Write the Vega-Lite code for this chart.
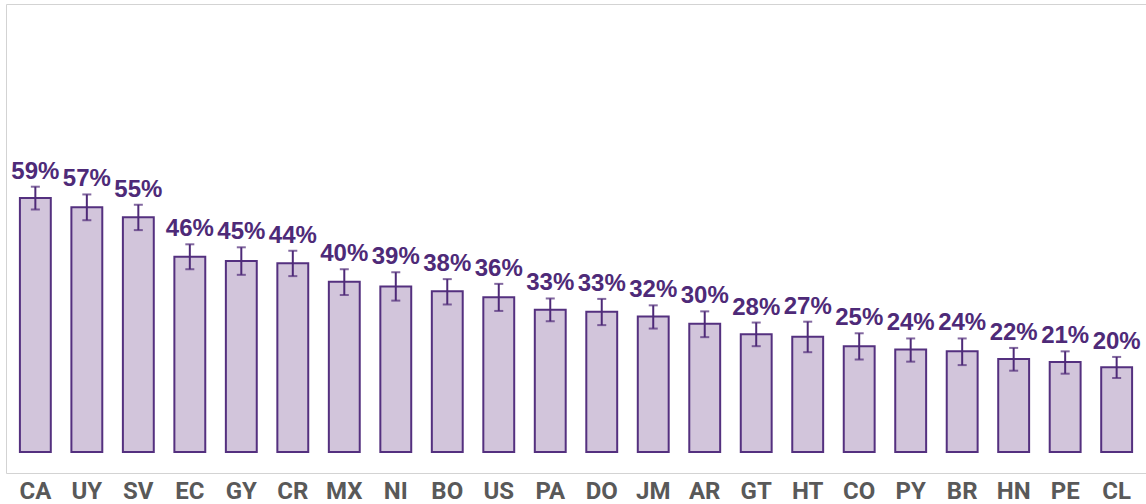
{
  "$schema": "https://vega.github.io/schema/vega-lite/v6.json",
  "autosize": "none",
  "width": 1140,
  "height": 469,
  "padding": {"left": 6, "top": 4, "right": 0, "bottom": 31},
  "background": "white",
  "config": {
    "view": {"stroke": "#d3d3d3", "strokeWidth": 1},
    "font": "Roboto"
  },
  "data": {
    "values": [
      {"country": "CA", "value": 59.1, "lo": 56.4, "hi": 61.7, "label": "59%"},
      {"country": "UY", "value": 56.9, "lo": 53.9, "hi": 59.9, "label": "57%"},
      {"country": "SV", "value": 54.6, "lo": 51.6, "hi": 57.5, "label": "55%"},
      {"country": "EC", "value": 45.4, "lo": 42.5, "hi": 48.3, "label": "46%"},
      {"country": "GY", "value": 44.4, "lo": 41.2, "hi": 47.6, "label": "45%"},
      {"country": "CR", "value": 43.9, "lo": 40.9, "hi": 46.8, "label": "44%"},
      {"country": "MX", "value": 39.6, "lo": 36.5, "hi": 42.5, "label": "40%"},
      {"country": "NI", "value": 38.5, "lo": 35.2, "hi": 41.8, "label": "39%"},
      {"country": "BO", "value": 37.4, "lo": 34.3, "hi": 40.2, "label": "38%"},
      {"country": "US", "value": 36.0, "lo": 32.8, "hi": 39.1, "label": "36%"},
      {"country": "PA", "value": 33.1, "lo": 30.4, "hi": 35.7, "label": "33%"},
      {"country": "DO", "value": 32.6, "lo": 29.5, "hi": 35.6, "label": "33%"},
      {"country": "JM", "value": 31.5, "lo": 28.7, "hi": 34.1, "label": "32%"},
      {"country": "AR", "value": 29.8, "lo": 26.7, "hi": 32.7, "label": "30%"},
      {"country": "GT", "value": 27.4, "lo": 24.6, "hi": 30.1, "label": "28%"},
      {"country": "HT", "value": 26.8, "lo": 23.2, "hi": 30.3, "label": "27%"},
      {"country": "CO", "value": 24.6, "lo": 21.5, "hi": 27.6, "label": "25%"},
      {"country": "PY", "value": 23.8, "lo": 21.0, "hi": 26.4, "label": "24%"},
      {"country": "BR", "value": 23.4, "lo": 20.2, "hi": 26.4, "label": "24%"},
      {"country": "HN", "value": 21.6, "lo": 18.9, "hi": 24.2, "label": "22%"},
      {"country": "PE", "value": 20.9, "lo": 18.2, "hi": 23.4, "label": "21%"},
      {"country": "CL", "value": 19.7, "lo": 17.2, "hi": 22.1, "label": "20%"}
    ]
  },
  "encoding": {
    "x": {
      "field": "country",
      "type": "nominal",
      "sort": null,
      "scale": {"paddingInner": 0.4, "paddingOuter": 0.27},
      "axis": {
        "title": null,
        "domain": false,
        "ticks": false,
        "labelAngle": 0,
        "labelFont": "Roboto",
        "labelFontSize": 24,
        "labelFontWeight": "bold",
        "labelColor": "#595959",
        "labelPadding": 6
      }
    }
  },
  "layer": [
    {
      "mark": {"type": "bar", "fill": "#d2c5db", "stroke": "#54307f", "strokeWidth": 2},
      "encoding": {
        "y": {
          "field": "value",
          "type": "quantitative",
          "scale": {"domain": [-4.9, 104.2], "nice": false, "zero": false},
          "axis": null
        }
      }
    },
    {
      "mark": {"type": "rule", "color": "#4e2a78", "strokeWidth": 2},
      "encoding": {
        "y": {"field": "lo", "type": "quantitative"},
        "y2": {"field": "hi"}
      }
    },
    {
      "mark": {"type": "tick", "color": "#4e2a78", "thickness": 2, "size": 9, "orient": "horizontal"},
      "encoding": {"y": {"field": "lo", "type": "quantitative"}}
    },
    {
      "mark": {"type": "tick", "color": "#4e2a78", "thickness": 2, "size": 9, "orient": "horizontal"},
      "encoding": {"y": {"field": "hi", "type": "quantitative"}}
    },
    {
      "mark": {"type": "text", "font": "Liberation Sans", "fontSize": 24, "fontWeight": "bold", "color": "#4e2a78", "baseline": "alphabetic", "dy": -8},
      "encoding": {
        "y": {"field": "hi", "type": "quantitative"},
        "text": {"field": "label"}
      }
    }
  ]
}
